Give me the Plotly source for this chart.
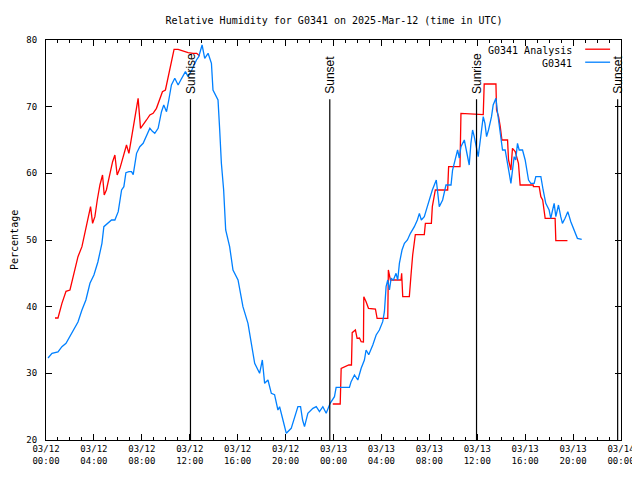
import pandas as pd
import plotly.graph_objects as go

START = pd.Timestamp("2025-03-12 00:00")

# G0341 observations: hours after 2025-03-12 00:00 UTC, relative humidity (%)
obs_hours = [0.17, 0.5, 1.0, 1.33, 1.67, 2.0, 2.33, 2.67, 3.0, 3.33, 3.67, 4.0, 4.33, 4.67, 4.83,
             5.17, 5.47, 5.75, 6.03, 6.31, 6.5, 6.67, 6.92, 7.14, 7.28, 7.56, 7.83, 8.11, 8.39, 8.67,
             8.88, 9.08, 9.36, 9.64, 9.83, 10.06, 10.25, 10.47, 10.75, 11.03, 11.25, 11.64, 11.86,
             12.17, 12.56, 12.75, 13.03, 13.25, 13.53, 13.81, 13.94, 14.22, 14.36, 14.5, 14.64,
             14.83, 15.0, 15.33, 15.61, 16.03, 16.44, 16.86, 17.14, 17.42, 17.83, 18.06, 18.25,
             18.53, 18.81, 19.08, 19.36, 19.5, 19.78, 20.06, 20.47, 20.75, 21.03, 21.25, 21.42,
             21.58, 21.86, 22.28, 22.56, 22.83, 23.11, 23.39, 23.72, 24.08, 24.22, 25.33, 25.47,
             25.75, 26.03, 26.31, 26.58, 26.72, 26.94, 27.28, 27.56, 27.83, 28.11, 28.25, 28.39,
             28.53, 28.67, 28.81, 29.0, 29.22, 29.36, 29.5, 29.72, 29.92, 30.17, 30.42, 30.75,
             31.0, 31.17, 31.33, 31.58, 31.83, 32.0, 32.25, 32.58, 32.75, 32.83, 33.11, 33.39,
             33.81, 33.94, 34.22, 34.36, 34.5, 34.64, 34.92, 35.19, 35.33, 35.47, 35.61, 35.75,
             35.89, 36.08, 36.22, 36.39, 36.5, 36.64, 36.78, 36.94, 37.08, 37.19, 37.33, 37.56,
             37.69, 37.83, 37.97, 38.11, 38.33, 38.53, 38.67, 38.81, 38.94, 39.08, 39.21, 39.36,
             39.5, 39.78, 40.0, 40.11, 40.28, 40.47, 40.75, 40.89, 41.31, 41.5, 41.72, 42.0,
             42.14, 42.29, 42.42, 42.56, 42.78, 42.97, 43.11, 43.33, 43.56, 43.81, 44.08, 44.36,
             44.72]
obs_rh = [32.3, 33, 33.2, 34, 34.5, 35.5, 36.5, 37.7, 39.5, 41, 43.5, 44.75, 46.7, 49.5, 52,
          52.5, 53, 53, 54.25, 57.5, 58, 60.1, 60.25, 60.25, 59.8, 63, 64, 64.5, 65.75, 66.75,
          66.3, 66, 66.75, 69.25, 70.25, 69.25, 71, 73.25, 74.25, 73.25, 74, 75.25, 74.5,
          75.5, 77, 77.5, 79.25, 77.25, 78, 76.5, 72.5, 71.5, 71, 66.5, 61.5,
          57.5, 51.5, 49, 45.5, 44, 40, 37.5, 34.5, 31.5, 30, 32, 28.5,
          29, 27, 26.8, 24.5, 25, 23, 21, 21.75, 23.25, 25, 25, 23,
          22, 24, 24.75, 25, 24.25, 25, 24, 25.5, 26.5, 27.9, 27.9, 28.75,
          29.75, 29, 30.75, 32, 33.5, 32.8, 34.25, 35.75, 36.5, 37.75, 39.25, 43,
          44, 42.5, 44.25, 44, 45, 44, 46.5, 48.5, 49.5, 50, 51, 52,
          53, 54, 53, 53.5, 55, 56, 57.5, 59, 56.5, 55, 56, 58.25,
          58.25, 60.5, 62.5, 63.5, 62.3, 64, 65, 62.5, 61.25, 64.5, 66.5, 65.5,
          64.25, 62.5, 64.5, 66.5, 68.5, 67.5, 65.5, 66.5, 67.5, 68.5, 70.25, 71.25,
          69.2, 67.5, 65.5, 63.5, 63.5, 61.75, 60, 58.5, 61, 62.5, 62, 64.5,
          63.5, 63.5, 62, 61, 59, 58.5, 58.5, 59.5, 59.5, 57.5, 55.5, 54.5,
          53.25, 54.5, 55.5, 53.5, 55.25, 53.5, 52.5, 53.25, 54.25, 52.75, 51.5, 50.25,
          50.1]

# G0341 Analysis (None = no analysis values)
ana_hours = [0.75, 1.0, 1.33, 1.67, 2.0, 2.33, 2.67, 3.0, 3.31, 3.53, 3.72, 3.89, 4.08, 4.28,
             4.5, 4.72, 4.86, 5.04, 5.33, 5.56, 5.75, 5.94, 6.17, 6.44, 6.72, 6.92, 7.14, 7.42,
             7.69, 7.89, 8.11, 8.39, 8.67, 8.94, 9.22, 9.5, 9.72, 9.97, 10.19, 10.42, 10.69,
             11.03, 11.42, 11.86, 12.28, 12.58, 12.83, 18.0,
             23.94, 24.56, 24.64, 24.92, 25.28, 25.5, 25.56, 25.83, 25.97, 26.17, 26.31, 26.5,
             26.53, 26.72, 26.92, 27.5, 27.64, 28.53, 28.58, 28.75, 29.64, 29.69, 29.78, 30.33,
             30.39, 30.47, 30.61, 30.67, 30.83, 31.58, 31.67, 32.17, 32.25, 32.5, 33.53, 33.61,
             34.56, 34.64, 36.0, 36.5, 36.58, 37.56, 37.61, 37.78, 37.92, 38.06, 38.53, 38.61,
             38.81, 38.94, 39.17, 39.44, 39.58, 40.67, 40.69, 41.17, 41.31, 41.46, 41.67, 42.5,
             42.56, 43.53]
ana_rh = [38.3, 38.3, 40.5, 42.3, 42.5, 45, 47.5, 49, 51.5, 53.75, 55, 52.5, 53.5, 56,
          58.25, 59.75, 56.75, 57.5, 60, 61.75, 62.75, 59.75, 60.75, 62.5, 64.25, 63, 65.25, 68.5,
          71.25, 66.75, 67.25, 68, 68.75, 69, 69.75, 71.25, 72.25, 72.5, 74.5, 76.5, 78.6,
          78.6, 78.4, 78.1, 78, 78, 77.6, None,
          25.4, 25.4, 30.75, 31, 31.25, 31.25, 36.1, 36.5, 35.25, 35.3, 34.75, 34.7,
          41.5, 40.75, 39.75, 39.65, 38.25, 38.25, 45.5, 44, 44, 45, 41.5, 41.5,
          43.25, 44.75, 47.75, 48.5, 50.8, 50.8, 52.5, 52.5, 55, 57.5, 57.5, 61,
          61, 69, 68.8, 68.8, 73.4, 73.4, 69.5, 68.5, 67, 65, 65, 62,
          60.5, 63.75, 63.25, 61.5, 58.25, 58.25, 58, 58, 56.5, 56, 53.25, 53.25,
          49.9, 49.9]

sun_events = ["Sunrise", "Sunset", "Sunrise", "Sunset"]
sun_hours = [12.06, 23.69, 35.94, 47.72]

tick_hours = [0, 4, 8, 12, 16, 20, 24, 28, 32, 36, 40, 44, 48]
tick_text = ["03/12<br>00:00", "03/12<br>04:00", "03/12<br>08:00", "03/12<br>12:00",
             "03/12<br>16:00", "03/12<br>20:00", "03/13<br>00:00", "03/13<br>04:00",
             "03/13<br>08:00", "03/13<br>12:00", "03/13<br>16:00", "03/13<br>20:00",
             "03/14<br>00:00"]

series_names = ["G0341 Analysis", "G0341"]
series_colors = ["#ff0000", "#0080ff"]


def to_time(hours):
    return [START + pd.Timedelta(hours=h) for h in hours]


MONO = "DejaVu Sans Mono, monospace"
# page body has an 8px margin; figure sized so that it fits the 640x480 window
W, H = 632, 472

fig = go.Figure()
fig.add_trace(go.Scatter(x=to_time(ana_hours), y=ana_rh, mode="lines", name=series_names[0],
                         line=dict(color=series_colors[0], width=1.3), connectgaps=False))
fig.add_trace(go.Scatter(x=to_time(obs_hours), y=obs_rh, mode="lines", name=series_names[1],
                         line=dict(color=series_colors[1], width=1.3)))

for ev, h in zip(sun_events, sun_hours):
    t = START + pd.Timedelta(hours=h)
    fig.add_shape(type="line", xref="x", yref="y", x0=t, x1=t, y0=20, y1=71.1,
                  line=dict(color="black", width=1.2))
    fig.add_annotation(x=t, y=71.6, xref="x", yref="y", text=ev, textangle=-90,
                       showarrow=False, yanchor="bottom", xanchor="center",
                       font=dict(family="Liberation Sans, Arial", size=12, color="black"))

# custom legend (text right-aligned, sample line on the right)
leg_y = [0.975, 0.9425]
for name, col, ly in zip(series_names, series_colors, leg_y):
    fig.add_annotation(x=0.918, y=ly, xref="paper", yref="paper", text=name, showarrow=False,
                       xanchor="right", yanchor="middle",
                       font=dict(family=MONO, size=10, color="black"))
    fig.add_shape(type="line", xref="paper", yref="paper", x0=0.9377, x1=0.981, y0=ly + 0.002,
                  y1=ly + 0.002, line=dict(color=col, width=1.3))

# y-axis title as annotation
fig.add_annotation(x=-32 / 575, y=0.5, xref="paper", yref="paper", text="Percentage",
                   textangle=-90, showarrow=False, xanchor="center", yanchor="middle",
                   borderpad=0,
                   font=dict(family=MONO, size=10, color="black"))

fig.update_layout(
    width=W, height=H,
    margin=dict(l=38, r=19, t=32, b=40, autoexpand=False),
    paper_bgcolor="white", plot_bgcolor="white",
    showlegend=False,
    title=dict(text="Relative Humidity for G0341 on 2025-Mar-12 (time in UTC)",
               x=326 / W, xanchor="center", y=1 - 12 / H, yanchor="middle",
               xref="container", yref="container", automargin=False,
               font=dict(family=MONO, size=10, color="black")),
    font=dict(family=MONO, size=9, color="black"),
)
fig.update_xaxes(
    range=[START, START + pd.Timedelta(hours=48)],
    tickvals=to_time(tick_hours), ticktext=tick_text,
    ticks="inside", ticklen=6, tickcolor="black",
    minor=dict(ticks="inside", ticklen=3, dtick=3600000, tickcolor="black"),
    showline=True, linecolor="black", linewidth=1, mirror="ticks",
    showgrid=False, zeroline=False, automargin=False,
    tickfont=dict(family=MONO, size=9, color="black"),
)
fig.update_yaxes(
    range=[20, 80], tickvals=[20, 30, 40, 50, 60, 70, 80],
    ticks="inside", ticklen=6, tickcolor="black",
    showline=True, linecolor="black", linewidth=1, mirror="ticks",
    showgrid=False, zeroline=False, automargin=False,
    tickfont=dict(family=MONO, size=9, color="black"),
    ticklabelstandoff=6,
)

fig.write_html("out.html")
